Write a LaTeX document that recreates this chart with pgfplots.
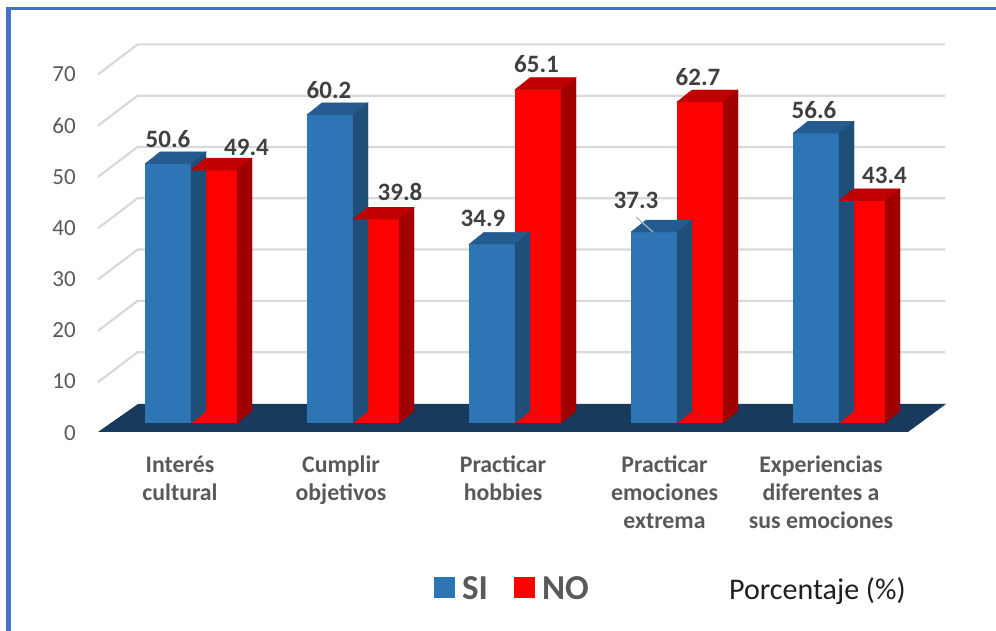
\documentclass[border=0pt]{standalone}
\usepackage{fontspec}
\setmainfont{Carlito}
\usepackage{pgfplots}
\pgfplotsset{compat=1.18}
\usepackage{pgfplotstable}
\definecolor{siF}{HTML}{2E75B6}
\definecolor{siT}{HTML}{245C8F}
\definecolor{siS}{HTML}{1F4E79}
\definecolor{noF}{HTML}{FF0000}
\definecolor{noT}{HTML}{C00000}
\definecolor{noS}{HTML}{A00000}
\definecolor{floorc}{HTML}{183A5C}
\definecolor{gridc}{HTML}{D9D9D9}
\definecolor{txtg}{HTML}{595959}
\definecolor{lblg}{HTML}{404040}
\definecolor{frameb}{HTML}{4472C4}
\pgfdeclareplotmark{nothing}{}

\pgfplotstableread{
x si no sidx sidy nodx nody lead
0 50.6 49.4 -23 24.5 55.5 23 0
1 60.2 39.8 -24 25 47 27.5 0
2 34.9 65.1 -32 25.5 21.5 25.5 0
3 37.3 62.7 -41 32 21 25 1
4 56.6 43.4 -25 23.5 45.5 25 0
}\data

\begin{document}
\begin{tikzpicture}
\useasboundingbox (0,0) rectangle (996pt,631pt);
\draw[frameb, line width=3pt] (6pt,622.8pt) -- (996pt,622.8pt);
\draw[frameb, line width=4.5pt] (8.5pt,0pt) -- (8.5pt,624.3pt);
\foreach \v in {10,20,...,70} {
  \pgfmathsetmacro\yb{227.5+5.13*\v}
  \draw[gridc, line width=2.2pt] (98pt,{\yb pt-30pt}) -- (137.5pt,\yb pt) -- (945pt,\yb pt);
}
\fill[floorc] (98pt,199pt) -- (908pt,199pt) -- (946pt,227pt) -- (138pt,227pt) -- cycle;
\node[anchor=base west, inner sep=0pt, font=\fontsize{30}{36}\selectfont, text=black!88] at (729pt,31pt) {Porcentaje (\%)};
\begin{axis}[
  at={(93.8pt,208pt)}, anchor=south west,
  x=162pt, y=5.12pt,
  xmin=-0.6, xmax=4.6, ymin=0, ymax=70,
  clip=false,
  axis line style={draw=none},
  tick style={draw=none},
  ytick={0,10,...,70},
  yticklabel style={font=\fontsize{23}{27}\selectfont, text=txtg, inner sep=0pt, anchor=east, xshift=-17.8pt, yshift=-9.7pt},
  /pgf/number format/assume math mode=true,
  xtick={-0.068,0.926,1.926,2.923,3.889},
  xticklabels={{\strut Interés\\cultural},{\strut Cumplir\\objetivos},{\strut Practicar\\hobbies},{\strut Practicar\\emociones\\extrema},{\strut Experiencias\\diferentes a\\sus emociones}},
  xticklabel style={align=center, font=\bfseries\fontsize{23.8}{28.3}\selectfont, text=txtg, inner sep=0pt, anchor=north, yshift=-29pt},
  legend columns=2,
  legend style={draw=none, fill=none, inner sep=0pt, at={(0.4038,-0.4632)}, anchor=west,
    font=\bfseries\fontsize{35}{40}\selectfont, text=txtg, nodes={inner sep=4pt},
    /tikz/every even column/.append style={column sep=22pt}},
]
% SI bars
\addplot[ybar, bar width=46pt, bar shift=-23pt, fill=siF, draw=none, forget plot] table[x=x, y=si] {\data};
\addplot[forget plot, scatter, only marks, mark=nothing, point meta=y,
  visualization depends on={\thisrow{si} \as \hv},
  visualization depends on={\thisrow{lead} \as \lead},
  scatter/@pre marker code/.code={%
    \pgfmathsetmacro\hh{\hv*5.12}%
    \fill[siT] (-46pt,0pt) -- (0pt,0pt) -- (15pt,12pt) -- (-31pt,12pt) -- cycle;
    \fill[siS] (0pt,0pt) -- (0pt,-\hh pt) -- (15pt,{12pt-\hh pt}) -- (15pt,12pt) -- cycle;
    \ifdim\lead pt>0.5pt \draw[gray!60, line width=1.2pt] (-41pt,15pt) -- (-24pt,0pt);\fi
  },
  scatter/@post marker code/.code={},
] table[x=x, y=si] {\data};
% NO bars
\addplot[ybar, bar width=46pt, bar shift=23pt, fill=noF, draw=none, forget plot] table[x=x, y=no] {\data};
\addplot[forget plot, scatter, only marks, mark=nothing, point meta=y,
  visualization depends on={\thisrow{no} \as \hv},
  scatter/@pre marker code/.code={%
    \pgfmathsetmacro\hh{\hv*5.12}%
    \fill[noT] (0pt,0pt) -- (46pt,0pt) -- (61pt,12pt) -- (15pt,12pt) -- cycle;
    \fill[noS] (46pt,0pt) -- (46pt,-\hh pt) -- (61pt,{12pt-\hh pt}) -- (61pt,12pt) -- cycle;
  },
  scatter/@post marker code/.code={},
] table[x=x, y=no] {\data};
% labels
\addplot[forget plot, only marks, mark=nothing, point meta=y,
  visualization depends on={\thisrow{sidx} \as \dx},
  visualization depends on={\thisrow{sidy} \as \dy},
  nodes near coords={\pgfmathprintnumber[fixed,fixed zerofill,precision=1]{\pgfplotspointmeta}},
  every node near coord/.append style={font=\bfseries\fontsize{25}{29}\selectfont, text=lblg, anchor=center, inner sep=0pt, xshift=\dx pt, yshift=\dy pt},
] table[x=x, y=si] {\data};
\addplot[forget plot, only marks, mark=nothing, point meta=y,
  visualization depends on={\thisrow{nodx} \as \dx},
  visualization depends on={\thisrow{nody} \as \dy},
  nodes near coords={\pgfmathprintnumber[fixed,fixed zerofill,precision=1]{\pgfplotspointmeta}},
  every node near coord/.append style={font=\bfseries\fontsize{25}{29}\selectfont, text=lblg, anchor=center, inner sep=0pt, xshift=\dx pt, yshift=\dy pt},
] table[x=x, y=no] {\data};
\addlegendimage{legend image code/.code={\fill[siF, draw=none] (0pt,-9pt) rectangle (21pt,12pt); \path[draw=none, fill=none] (0pt,0pt) -- (24pt,0pt);}}
\addlegendentry{SI}
\addlegendimage{legend image code/.code={\fill[noF, draw=none] (0pt,-9pt) rectangle (21pt,12pt); \path[draw=none, fill=none] (0pt,0pt) -- (24pt,0pt);}}
\addlegendentry{NO}
\end{axis}
\end{tikzpicture}
\end{document}
